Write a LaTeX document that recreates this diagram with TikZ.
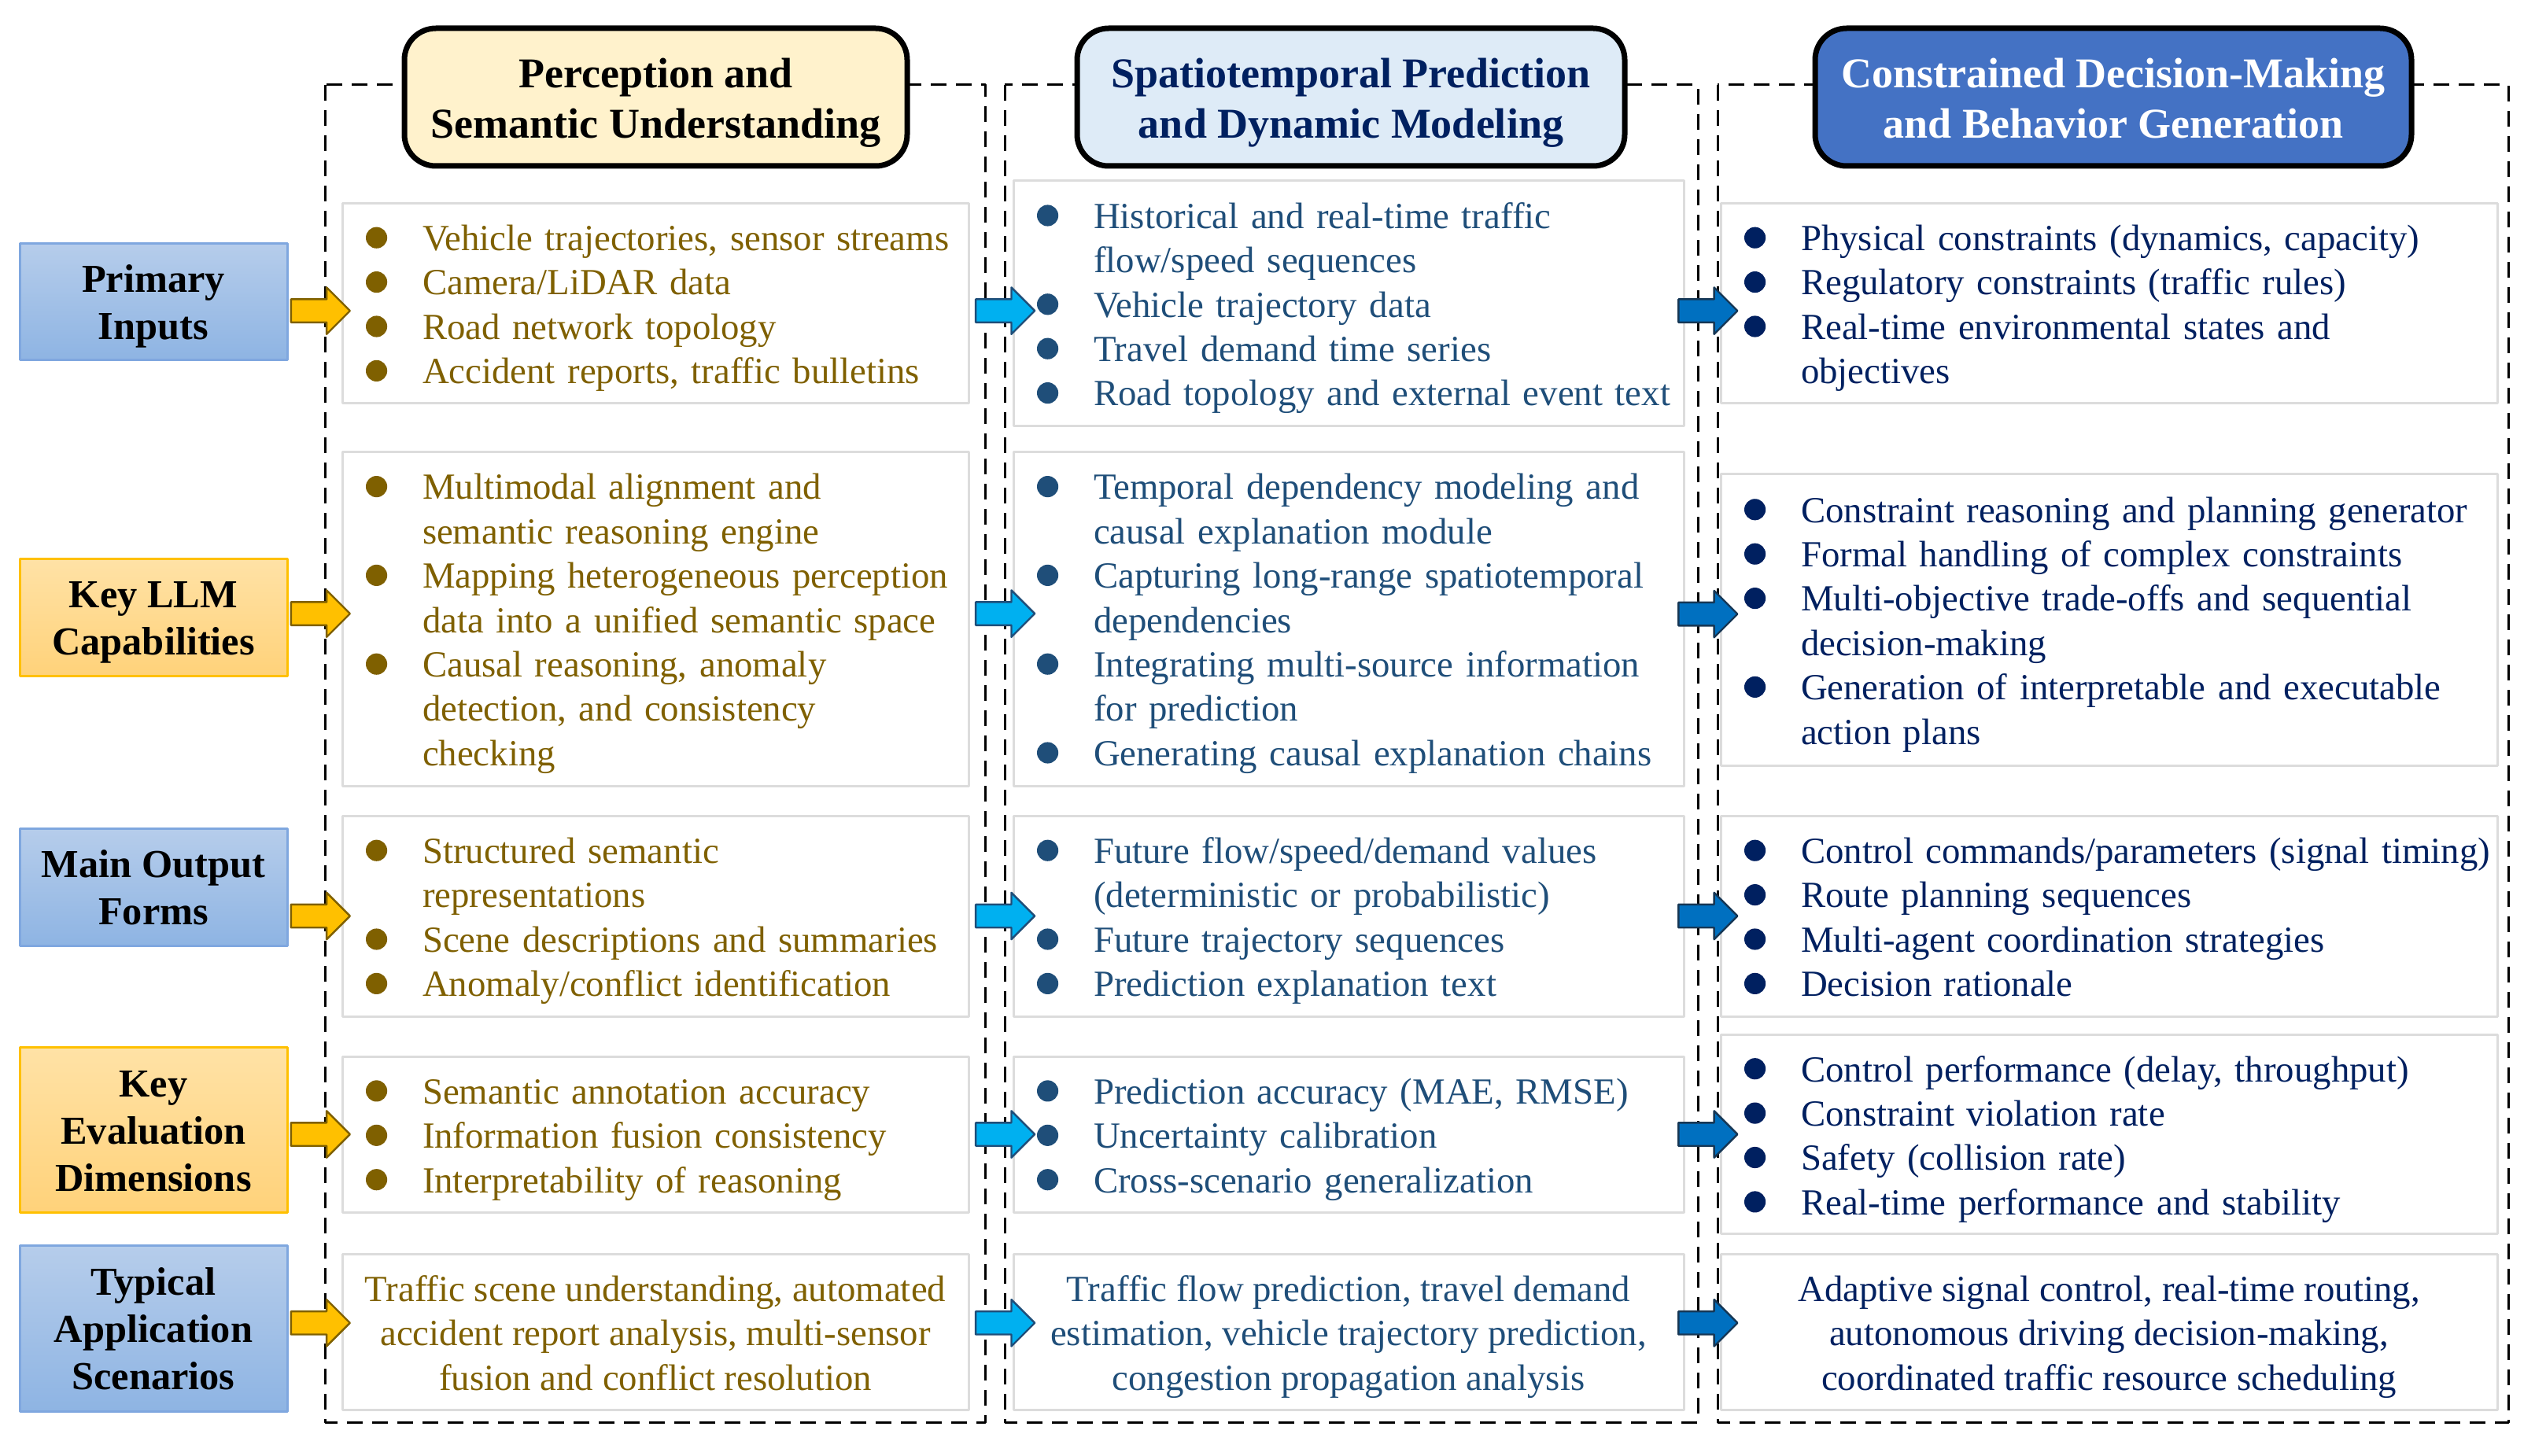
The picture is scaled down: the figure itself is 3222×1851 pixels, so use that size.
\documentclass[tikz,border=0pt]{standalone}
\usepackage{fontspec}
\setmainfont{Liberation Serif}
\usetikzlibrary{shapes.arrows}

\definecolor{goldtxt}{HTML}{7F6000}
\definecolor{bluetxt}{HTML}{1F4E79}
\definecolor{navytxt}{HTML}{002060}
\definecolor{headA}{HTML}{FFF2CC}
\definecolor{headB}{HTML}{DEEBF7}
\definecolor{headC}{HTML}{4472C4}
\definecolor{labbluetop}{HTML}{B6CDEB}
\definecolor{labbluebot}{HTML}{8EB4E3}
\definecolor{labblueline}{HTML}{7FA7DF}
\definecolor{labortop}{HTML}{FFE2A6}
\definecolor{laborbot}{HTML}{FFD27A}
\definecolor{laborline}{HTML}{FFC000}
\definecolor{boxline}{HTML}{DCDCDC}
\definecolor{arrowA}{HTML}{FFC000}
\definecolor{arrowB}{HTML}{00B0F0}
\definecolor{arrowC}{HTML}{0070C0}

\newcommand{\bul}{\makebox[18pt][l]{\tikz[baseline=0pt]\fill (0,0.35em) circle (0.29em);}}
\newcommand{\itemlist}[1]{\hspace*{7.5pt}\raisebox{-1.6pt}[\height][\depth]{%
  \begin{tabular}{@{}l@{}l@{}}#1\end{tabular}}}
\newcommand{\rowtext}[2][1.6pt]{\raisebox{-#1}[\height][\depth]{%
  \begin{tabular}{@{}c@{}}#2\end{tabular}}}

\tikzset{
  body/.style={font=\fontsize{11.7}{14.1}\selectfont},
  frame/.style={draw=black, dash pattern=on 5pt off 3pt, line width=0.75pt},
  header/.style={draw=black, line width=1.75pt, rounded corners=10pt,
    inner sep=0pt, minimum height=43.75pt, font=\fontsize{13.5}{16}\selectfont\bfseries},
  rowlab/.style={line width=0.75pt, inner sep=0pt, minimum width=85pt,
    font=\fontsize{12.6}{15}\selectfont\bfseries},
  bluelab/.style={rowlab, top color=labbluetop, bottom color=labbluebot, draw=labblueline},
  orlab/.style={rowlab, top color=labortop, bottom color=laborbot, draw=laborline},
  cbox/.style 2 args={draw=boxline, line width=0.75pt, fill=white, inner sep=0pt,
    text width=#1, minimum height=#2, align=left, body},
  cboxc/.style 2 args={draw=boxline, line width=0.75pt, fill=white, inner sep=0pt,
    minimum width=#1, minimum height=#2, body},
  arr/.style={single arrow, single arrow head extend=3.75pt, inner xsep=0pt,
    inner ysep=3.375pt, minimum width=0pt, minimum height=18.75pt, line width=0.6pt},
  orarrow/.style={arr, fill=arrowA, draw=goldtxt},
  cyarrow/.style={arr, fill=arrowB, draw=bluetxt},
  dbarrow/.style={arr, fill=arrowC, draw=bluetxt!70!black}
}

\begin{document}
\begin{tikzpicture}[x=0.25pt, y=-0.25pt, line join=round]
\useasboundingbox (0,0) rectangle (3222,1851);

% dashed column frames
\foreach \xa/\xb in {413/1252,1277/2158,2183/3188}
  \draw[frame] (\xa,108) rectangle (\xb,1808);

% column headers
\node[header, fill=headA, minimum width=159.75pt] (h1) at (833.5,123.5)
  {\rowtext[1.75pt]{Perception and\\Semantic Understanding}};
\node[header, fill=headB, text=navytxt, minimum width=174pt] (h2) at (1717,123.5)
  {\rowtext[1.75pt]{Spatiotemporal Prediction\\and Dynamic Modeling}};
\node[header, fill=headC, text=white, minimum width=189.5pt] (h3) at (2686,123.5)
  {\rowtext[1.75pt]{Constrained Decision-Making\\and Behavior Generation}};

% row labels
\foreach \rw/\yc/\hh/\sty/\txt in {1/383/37pt/bluelab/{Primary\\Inputs},
    2/784.5/37.25pt/orlab/{Key LLM\\Capabilities},
    3/1127.5/37.25pt/bluelab/{Main Output\\Forms},
    4/1436/52.5pt/orlab/{Key\\Evaluation\\Dimensions},
    5/1688.5/52.75pt/bluelab/{Typical\\Application\\Scenarios}}
  \node[\sty, minimum height=\hh] (lab\rw) at (195,\yc) {\rowtext{\txt}};

% column 1
\node[cbox={199pt}{63.25pt}, text=goldtxt] (c11) at (833,385.5) {\itemlist{
  \bul & Vehicle trajectories, sensor streams\\
  \bul & Camera/LiDAR data\\
  \bul & Road network topology\\
  \bul & Accident reports, traffic bulletins}};
\node[cbox={199pt}{106.25pt}, text=goldtxt] (c12) at (833,786.5) {\itemlist{
  \bul & Multimodal alignment and\\
       & semantic reasoning engine\\
  \bul & Mapping heterogeneous perception\\
       & data into a unified semantic space\\
  \bul & Causal reasoning, anomaly\\
       & detection, and consistency\\
       & checking}};
\node[cbox={199pt}{63.75pt}, text=goldtxt] (c13) at (833,1164.5) {\itemlist{
  \bul & Structured semantic\\
       & representations\\
  \bul & Scene descriptions and summaries\\
  \bul & Anomaly/conflict identification}};
\node[cbox={199pt}{49.5pt}, text=goldtxt] (c14) at (833,1442) {\itemlist{
  \bul & Semantic annotation accuracy\\
  \bul & Information fusion consistency\\
  \bul & Interpretability of reasoning}};
\node[cboxc={199pt}{49.5pt}, text=goldtxt] (c15) at (833,1693) {\rowtext{Traffic scene understanding, automated\\accident report analysis, multi-sensor\\fusion and conflict resolution}};

% column 2
\node[cbox={213pt}{77.75pt}, text=bluetxt] (c21) at (1714,385.5) {\itemlist{
  \bul & Historical and real-time traffic\\
       & flow/speed sequences\\
  \bul & Vehicle trajectory data\\
  \bul & Travel demand time series\\
  \bul & Road topology and external event text}};
\node[cbox={213pt}{106.25pt}, text=bluetxt] (c22) at (1714,786.5) {\itemlist{
  \bul & Temporal dependency modeling and\\
       & causal explanation module\\
  \bul & Capturing long-range spatiotemporal\\
       & dependencies\\
  \bul & Integrating multi-source information\\
       & for prediction\\
  \bul & Generating causal explanation chains}};
\node[cbox={213pt}{63.75pt}, text=bluetxt] (c23) at (1714,1164.5) {\itemlist{
  \bul & Future flow/speed/demand values\\
       & (deterministic or probabilistic)\\
  \bul & Future trajectory sequences\\
  \bul & Prediction explanation text}};
\node[cbox={213pt}{49.5pt}, text=bluetxt] (c24) at (1714,1442) {\itemlist{
  \bul & Prediction accuracy (MAE, RMSE)\\
  \bul & Uncertainty calibration\\
  \bul & Cross-scenario generalization}};
\node[cboxc={213pt}{49.5pt}, text=bluetxt] (c25) at (1714,1693) {\rowtext{Traffic flow prediction, travel demand\\estimation, vehicle trajectory prediction,\\congestion propagation analysis}};

% column 3
\node[cbox={246.75pt}{63.25pt}, text=navytxt] (c31) at (2680.5,385.5) {\itemlist{
  \bul & Physical constraints (dynamics, capacity)\\
  \bul & Regulatory constraints (traffic rules)\\
  \bul & Real-time environmental states and\\
       & objectives}};
\node[cbox={246.75pt}{92.75pt}, text=navytxt] (c32) at (2680.5,787.5) {\itemlist{
  \bul & Constraint reasoning and planning generator\\
  \bul & Formal handling of complex constraints\\
  \bul & Multi-objective trade-offs and sequential\\
       & decision-making\\
  \bul & Generation of interpretable and executable\\
       & action plans}};
\node[cbox={246.75pt}{63.75pt}, text=navytxt] (c33) at (2680.5,1164.5) {\itemlist{
  \bul & Control commands/parameters (signal timing)\\
  \bul & Route planning sequences\\
  \bul & Multi-agent coordination strategies\\
  \bul & Decision rationale}};
\node[cbox={246.75pt}{63.25pt}, text=navytxt] (c34) at (2680.5,1442) {\itemlist{
  \bul & Control performance (delay, throughput)\\
  \bul & Constraint violation rate\\
  \bul & Safety (collision rate)\\
  \bul & Real-time performance and stability}};
\node[cboxc={246.75pt}{49.5pt}, text=navytxt] (c35) at (2680.5,1693) {\rowtext{Adaptive signal control, real-time routing,\\autonomous driving decision-making,\\coordinated traffic resource scheduling}};

% block arrows between the columns
\foreach \rw/\dy in {1/-2.4,2/1.6,3/0,4/0,5/2.8} {
  \path (lab\rw.east |- c1\rw) -- node[orarrow, yshift=\dy pt] {} (c1\rw.west);
  \path (c1\rw.east) -- node[cyarrow, pos=0.7, yshift=\dy pt] {} (c2\rw.west);
  \path (c2\rw.east) -- node[dbarrow, yshift=\dy pt] {} (c3\rw.west);
}
\end{tikzpicture}
\end{document}
